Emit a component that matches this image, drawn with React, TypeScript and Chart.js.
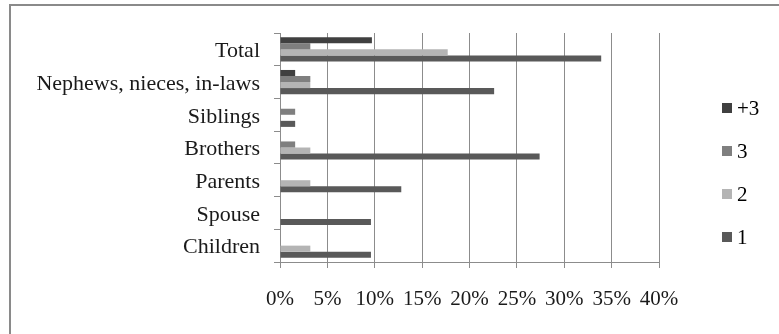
import React, { useEffect, useRef } from "react";
import { Chart, registerables } from "chart.js";

Chart.register(...registerables);

const categories = [
  "Total",
  "Nephews, nieces, in-laws",
  "Siblings",
  "Brothers",
  "Parents",
  "Spouse",
  "Children",
];

const seriesNames = ["+3", "3", "2", "1"];

// Shares in percent per relationship group
const plus3Values = [9.7, 1.6, 0, 0, 0, 0, 0];
const threeValues = [3.2, 3.2, 1.6, 1.6, 0, 0, 0];
const twoValues = [17.7, 3.2, 0, 3.2, 3.2, 0, 3.2];
const oneValues = [33.9, 22.6, 1.6, 27.4, 12.8, 9.6, 9.6];

const seriesColors = ["#404040", "#7f7f7f", "#b4b4b4", "#595959"];

const xTicks = [0, 5, 10, 15, 20, 25, 30, 35, 40];

const W = 779;
const H = 334;
const FONT = "'Liberation Serif', 'Times New Roman', serif";

// Outer frame of the chart object (top and left edges visible)
const framePlugin = {
  id: "frame",
  beforeDraw(chart: any) {
    const ctx = chart.ctx;
    ctx.save();
    ctx.fillStyle = "#ffffff";
    ctx.fillRect(0, 0, chart.width, chart.height);
    ctx.strokeStyle = "#8a8a8a";
    ctx.lineWidth = 2;
    ctx.beginPath();
    ctx.moveTo(10, chart.height + 2);
    ctx.lineTo(10, 5);
    ctx.lineTo(chart.width + 2, 5);
    ctx.stroke();
    ctx.restore();
  },
};

// Legend column on the right, built from the datasets
const sideLegendPlugin = {
  id: "sideLegend",
  afterDraw(chart: any) {
    const ctx = chart.ctx;
    const ds = chart.data.datasets;
    ctx.save();
    ctx.font = `21px ${FONT}`;
    ctx.textBaseline = "middle";
    ctx.textAlign = "left";
    ds.forEach((d: any, i: number) => {
      const cy = 108 + i * 43;
      ctx.fillStyle = d.backgroundColor;
      ctx.fillRect(722, cy - 5, 10, 10);
      ctx.fillStyle = "#000000";
      ctx.fillText(d.label, 737, cy + 1);
    });
    ctx.restore();
  },
};

export default function App() {
  const ref = useRef<HTMLCanvasElement | null>(null);

  useEffect(() => {
    if (!ref.current) return;
    const values = [plus3Values, threeValues, twoValues, oneValues];
    const chart = new Chart(ref.current, {
      type: "bar",
      data: {
        labels: categories,
        datasets: seriesNames.map((name, i) => ({
          label: name,
          data: values[i],
          backgroundColor: seriesColors[i],
          borderWidth: 0,
          categoryPercentage: 0.74,
          barPercentage: 1.0,
        })),
      },
      options: {
        indexAxis: "y",
        animation: false,
        responsive: false,
        maintainAspectRatio: false,
        layout: { padding: { left: 0, top: 33, right: 120, bottom: 0 } },
        plugins: {
          legend: { display: false },
          tooltip: { enabled: false },
          title: { display: false },
        },
        scales: {
          x: {
            type: "linear",
            min: 0,
            max: 40,
            afterBuildTicks(scale: any) {
              scale.ticks = xTicks.map((v) => ({ value: v }));
            },
            afterFit(scale: any) {
              scale.height = H - 262;
            },
            grid: {
              color: "#8c8c8c",
              lineWidth: 1,
              drawTicks: true,
              tickLength: 6,
            },
            border: { display: true, color: "#8c8c8c", width: 1 },
            ticks: {
              padding: 19,
              color: "#1a1a1a",
              font: { family: FONT, size: 21 },
              callback: (v: any) => `${v}%`,
              maxRotation: 0,
              autoSkip: false,
            },
          },
          y: {
            type: "category",
            offset: true,
            afterFit(scale: any) {
              scale.width = 280;
            },
            grid: {
              display: true,
              drawOnChartArea: false,
              drawTicks: true,
              tickLength: 6,
              color: "#8c8c8c",
              offset: true,
            },
            border: { display: true, color: "#8c8c8c", width: 1 },
            ticks: {
              padding: 14,
              labelOffset: 2,
              color: "#1a1a1a",
              font: { family: FONT, size: 22 },
              autoSkip: false,
            },
          },
        },
      },
      plugins: [framePlugin, sideLegendPlugin],
    });
    return () => chart.destroy();
  }, []);

  return (
    <div style={{ position: "absolute", left: 0, top: 0, width: W, height: H, background: "#fff" }}>
      <canvas ref={ref} width={W} height={H} style={{ display: "block", width: W, height: H }} />
    </div>
  );
}
